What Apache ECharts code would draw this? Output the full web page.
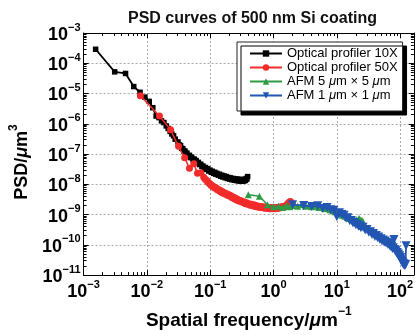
<!DOCTYPE html>
<html><head><meta charset="utf-8">
<script src="https://cdn.jsdelivr.net/npm/echarts@6/dist/echarts.min.js"></script>
<style>html,body{margin:0;padding:0;background:#fff}#c{width:416px;height:335px}</style>
</head><body><div id="c"></div>
<script>
// ---- data ----
const seriesNames = ['Optical profiler 10X', 'Optical profiler 50X', 'AFM 5 μm × 5 μm', 'AFM 1 μm × 1 μm'];
const legendLabels = ['Optical profiler 10X', 'Optical profiler 50X', 'AFM 5 {i|μ}m × 5 {i|μ}m', 'AFM 1 {i|μ}m × 1 {i|μ}m'];

const blackF = [0.00155,0.0031,0.0046,0.0062,0.0078,0.0093,0.0109,0.0124,0.014,0.0155,0.017,0.0186,0.0202,0.0217,0.0233,0.0248,0.0264,0.028,
  0.031,0.0325,0.034,0.0355,0.037,0.0385,0.040,0.0415,0.043,0.045,0.047,0.049,0.051,0.0535,0.056,0.058,0.060,0.0625,0.065,0.068,0.071,0.074,0.077,0.080,0.084,0.087,0.091,0.095,0.099,
  0.104,0.108,0.113,0.118,0.123,0.128,0.134,0.14,0.146,0.152,0.158,0.165,0.172,0.18,0.187,0.195,0.203,0.21,0.22,0.23,0.24,0.25,0.26,0.27,0.28,0.29,0.30,0.31,0.32,0.33,0.34,0.35,0.36,0.37,0.38,0.39];
const blackPSD = [2.9e-4,5.2e-5,4.6e-5,1.7e-5,1.1e-5,7.6e-6,5.5e-6,3.4e-6,1.8e-6,1.6e-6,1.25e-6,1.1e-6,8.5e-7,7.0e-7,5.6e-7,4.6e-7,4.0e-7,3.1e-7,
  2.5e-7,2.0e-7,1.9e-7,1.55e-7,1.5e-7,1.25e-7,1.25e-7,1.05e-7,1.07e-7,8.8e-8,9.1e-8,7.6e-8,7.9e-8,6.6e-8,6.8e-8,5.8e-8,6.1e-8,5.0e-8,5.3e-8,4.5e-8,4.6e-8,3.9e-8,4.0e-8,3.4e-8,3.6e-8,3.1e-8,3.3e-8,2.75e-8,2.95e-8,
  2.5e-8,2.7e-8,2.3e-8,2.5e-8,2.15e-8,2.3e-8,2.0e-8,2.15e-8,1.85e-8,2.0e-8,1.75e-8,1.9e-8,1.65e-8,1.8e-8,1.56e-8,1.68e-8,1.49e-8,1.63e-8,1.42e-8,1.56e-8,1.37e-8,1.51e-8,1.33e-8,1.48e-8,1.3e-8,1.45e-8,1.28e-8,1.43e-8,1.27e-8,1.43e-8,1.28e-8,1.45e-8,1.35e-8,1.55e-8,1.5e-8,1.8e-8];

const redF = [0.0079,0.0158,0.0237,0.0316,0.0395,0.047,0.055,0.063,0.071,0.079,0.083,0.087,0.091,0.095,0.099,0.103,0.107,0.111,0.115,0.12,0.125,0.13,0.135,0.14,0.145,0.15,0.155,0.16,0.168,0.175,0.183,0.19,0.198,0.205,0.213,0.22,0.23,0.24,0.25,0.26,0.27,0.28,0.29,0.30,0.315,0.33,0.345,0.36,0.375,0.39,0.41,0.43,0.45,0.47,0.49,0.51,0.535,0.56,0.585,0.61,0.64,0.67,0.70,0.73,0.765,0.8,0.84,0.88,0.92,0.96,1.0,1.05,1.1,1.15,1.2,1.26,1.32,1.38,1.44,1.5,1.55,1.6,1.65,1.7,1.75,1.8,1.85,1.9,1.98];
const redPSD = [8.5e-6,1.8e-6,6.3e-7,1.8e-7,7.5e-8,3.4e-8,4.8e-8,2.3e-8,2.4e-8,1.7e-8,1.5e-8,1.35e-8,1.25e-8,1.1e-8,1.05e-8,9.3e-9,9.2e-9,8.2e-9,8.3e-9,7.4e-9,7.5e-9,6.6e-9,6.8e-9,6.0e-9,6.2e-9,5.5e-9,5.8e-9,5.1e-9,5.3e-9,4.7e-9,4.9e-9,4.3e-9,4.5e-9,4.0e-9,4.2e-9,3.7e-9,3.8e-9,3.35e-9,3.5e-9,3.05e-9,3.2e-9,2.85e-9,3.0e-9,2.7e-9,2.8e-9,2.5e-9,2.6e-9,2.3e-9,2.45e-9,2.2e-9,2.3e-9,2.05e-9,2.2e-9,1.95e-9,2.1e-9,1.85e-9,2.0e-9,1.78e-9,1.9e-9,1.72e-9,1.85e-9,1.68e-9,1.8e-9,1.63e-9,1.75e-9,1.6e-9,1.72e-9,1.56e-9,1.7e-9,1.56e-9,1.7e-9,1.57e-9,1.72e-9,1.6e-9,1.75e-9,1.65e-9,1.8e-9,1.7e-9,1.85e-9,1.8e-9,1.95e-9,1.95e-9,2.2e-9,2.2e-9,2.5e-9,2.6e-9,2.7e-9,2.5e-9,2.2e-9];

const greenF = [0.4,0.6,0.8,1.0,1.2,1.4,1.6,1.8,2.0,2.4,2.8,3.2,3.6,4.0,4.6,5.2,5.8,6.4,7.0,7.8,8.6,9.4,10.2,11.2,12.2,13.4,14.6,16,17.4,19,20.6,22.4,24,25.6];
const greenPSD = [4.5e-9,4.0e-9,2.1e-9,1.8e-9,1.9e-9,1.7e-9,2.0e-9,1.8e-9,2.0e-9,1.9e-9,2.1e-9,1.9e-9,2.0e-9,1.8e-9,1.9e-9,1.7e-9,1.75e-9,1.6e-9,1.55e-9,1.45e-9,1.35e-9,1.25e-9,1.15e-9,1.05e-9,9.5e-10,8.8e-10,8.0e-10,7.6e-10,7.2e-10,7.0e-10,6.8e-10,7.6e-10,6.8e-10,6.2e-10];

const blueF = [2,3,4,5,6,7,8,9,10,11,12,13,14,15,16,17,18,19,20,21,22,23,24,26,28,30,32,34,36,38,40,42,44,46,48,50,52,54,56,58,60,62,64,66,68,70,72,74,76,78,80,82,84,86,88,90,92,94,96,98,100,102,104,106,108,110,112,114,116,118,120,122,124];
const bluePSD = [2.1e-9,2.0e-9,1.85e-9,1.95e-9,1.6e-9,1.7e-9,1.45e-9,1.4e-9,8.5e-10,1.15e-9,1.0e-9,9.5e-10,7.5e-10,7.8e-10,6.2e-10,6.4e-10,5.3e-10,5.5e-10,4.6e-10,4.8e-10,4.1e-10,4.3e-10,3.7e-10,3.8e-10,3.1e-10,3.2e-10,2.6e-10,2.7e-10,2.2e-10,2.35e-10,1.9e-10,2.05e-10,1.7e-10,1.8e-10,1.5e-10,1.6e-10,1.35e-10,1.45e-10,1.25e-10,1.35e-10,1.15e-10,1.22e-10,1.05e-10,1.12e-10,9.5e-11,1.0e-10,8.5e-11,9.0e-11,7.6e-11,8.0e-11,1.5e-10,7.0e-11,6.2e-11,6.4e-11,5.4e-11,5.6e-11,4.8e-11,5.0e-11,4.2e-11,4.4e-11,3.6e-11,3.8e-11,3.0e-11,3.2e-11,2.6e-11,2.7e-11,2.3e-11,2.35e-11,2.1e-11,2.2e-11,2.1e-11,2.3e-11,9.3e-11];

const xTickExponents = [-3,-2,-1,0,1,2];
const yTickExponents = [-11,-10,-9,-8,-7,-6,-5,-4,-3];
const xMin = 1e-3, xMax = 165, yMin = 1e-11, yMax = 1e-3;

// ---- chart ----
const FF = '"Liberation Sans", Arial, Helvetica, sans-serif';
const pair = (xs, ys) => xs.map((x, i) => [x, ys[i]]);
function powLabel(v, exps) {
  const l = Math.log10(v), e = Math.round(l);
  if (Math.abs(l - e) > 1e-6 || exps.indexOf(e) < 0) return '';
  return '{b|10}{s|' + (e < 0 ? '\u2212' : '') + Math.abs(e) + '}';
}
const labelRich = {
  b: {fontSize: 18, fontWeight: 'bold', fontFamily: FF, color: '#000', lineHeight: 22, verticalAlign: 'bottom'},
  s: {fontSize: 11, fontWeight: 'bold', fontFamily: FF, color: '#000', lineHeight: 11, verticalAlign: 'top'}
};
function minorLogs(e0, e1) {
  const out = [];
  for (let e = e0; e < e1; e++) for (let m = 2; m <= 9; m++) out.push(e + Math.log10(m));
  return out;
}
const gridLine = {show: true, lineStyle: {color: '#a8a8a8', type: [2, 2], width: 1}};
const axLine = {show: true, onZero: false, lineStyle: {color: '#000', width: 1}};

function majorAxis(pos, isX, withLabels) {
  return {
    type: 'log', logBase: 10, position: pos,
    min: isX ? xMin : yMin, max: isX ? xMax : yMax,
    axisLine: axLine,
    axisTick: {show: true, inside: true, length: 5, lineStyle: {color: '#000', width: 1}},
    axisLabel: withLabels ? {
      show: true, margin: isX ? 4 : 3, showMaxLabel: isX ? false : true,
      formatter: v => powLabel(v, isX ? xTickExponents : yTickExponents), rich: labelRich
    } : {show: false},
    splitLine: withLabels ? gridLine : {show: false},
    minorTick: {show: false}
  };
}
function minorAxis(pos, isX) {
  const lo = isX ? Math.log10(xMin) : Math.log10(yMin);
  const hi = isX ? Math.log10(xMax) : Math.log10(yMax);
  return {
    type: 'value', position: pos, min: lo, max: hi,
    axisLine: {show: false, onZero: false},
    axisTick: {show: true, inside: true, length: 3, customValues: minorLogs(Math.floor(lo), Math.ceil(hi)).filter(v => v <= hi),
      lineStyle: {color: '#000', width: 1}},
    axisLabel: {show: false}, splitLine: {show: false}
  };
}

const xAxes = [majorAxis('bottom', true, true), majorAxis('top', true, false), minorAxis('bottom', true), minorAxis('top', true)];
const yAxes = [majorAxis('left', false, true), majorAxis('right', false, false), minorAxis('left', false), minorAxis('right', false)];
xAxes[0].name = '{a|Spatial frequency/}{i|μ}{a|m}{s|\u22121}';
xAxes[0].nameLocation = 'middle';
xAxes[0].nameGap = 30;
xAxes[0].nameTextStyle = {rich: {
  a: {fontSize: 19, fontWeight: 'bold', fontFamily: FF, color: '#000', lineHeight: 24, verticalAlign: 'bottom'},
  i: {fontSize: 19, fontWeight: 'bold', fontStyle: 'italic', fontFamily: FF, color: '#000', lineHeight: 24, verticalAlign: 'bottom'},
  s: {fontSize: 12, fontWeight: 'bold', fontFamily: FF, color: '#000', lineHeight: 12, verticalAlign: 'top'}
}};
yAxes[0].name = '{a|PSD/}{i|μ}{a|m}{s|3}';
yAxes[0].nameLocation = 'middle';
yAxes[0].nameGap = 33;
yAxes[0].nameTextStyle = {padding: [0, 16, 0, 0], rich: {
  a: {fontSize: 18, fontWeight: 'bold', fontFamily: FF, color: '#000', lineHeight: 23, verticalAlign: 'bottom'},
  i: {fontSize: 18, fontWeight: 'bold', fontStyle: 'italic', fontFamily: FF, color: '#000', lineHeight: 23, verticalAlign: 'bottom'},
  s: {fontSize: 12, fontWeight: 'bold', fontFamily: FF, color: '#000', lineHeight: 12, verticalAlign: 'top'}
}};

const downTri = 'path://M0,0L10,0L5,8.66Z';
const styles = [
  {color: '#000000', symbol: 'rect', size: 5.5, lw: 1.8},
  {color: '#f22b2b', symbol: 'circle', size: 7, lw: 1.5},
  {color: '#2f9a44', symbol: 'triangle', size: 7, lw: 1.5},
  {color: '#2356b2', symbol: downTri, size: 9, lw: 1.8}
];
const dataSets = [pair(blackF, blackPSD), pair(redF, redPSD), pair(greenF, greenPSD), pair(blueF, bluePSD)];

const option = {
  animation: false,
  backgroundColor: '#fff',
  title: {text: 'PSD curves of 500 nm Si coating', left: 123, top: 6,
    textStyle: {fontSize: 16, fontWeight: 'bold', fontFamily: FF, color: '#111'}},
  grid: {left: 79, right: 2, top: 33, bottom: 55, containLabel: false},
  xAxis: xAxes,
  yAxis: yAxes,
  legend: {
    orient: 'vertical', left: 237, top: 42,
    data: seriesNames,
    backgroundColor: '#fff', borderColor: '#222', borderWidth: 1, borderRadius: 0,
    shadowColor: '#000', shadowOffsetX: 4, shadowOffsetY: 4, shadowBlur: 0,
    padding: [5, 5, 9, 12], itemWidth: 32, itemHeight: 8, itemGap: 1,
    formatter: name => legendLabels[seriesNames.indexOf(name)],
    textStyle: {fontSize: 13, fontFamily: FF, color: '#000', lineHeight: 13,
      rich: {i: {fontSize: 13, fontStyle: 'italic', fontFamily: FF, color: '#000', lineHeight: 13}}}
  },
  series: dataSets.map((d, k) => ({
    name: seriesNames[k], type: 'line', xAxisIndex: 0, yAxisIndex: 0,
    data: d, symbol: styles[k].symbol, symbolSize: styles[k].size, showSymbol: true,
    itemStyle: {color: styles[k].color}, lineStyle: {color: styles[k].color, width: styles[k].lw},
    emphasis: {disabled: true}, z: 2 + k
  }))
};
const chart = echarts.init(document.getElementById('c'), null, {renderer: 'canvas'});
chart.setOption(option);
</script></body></html>
